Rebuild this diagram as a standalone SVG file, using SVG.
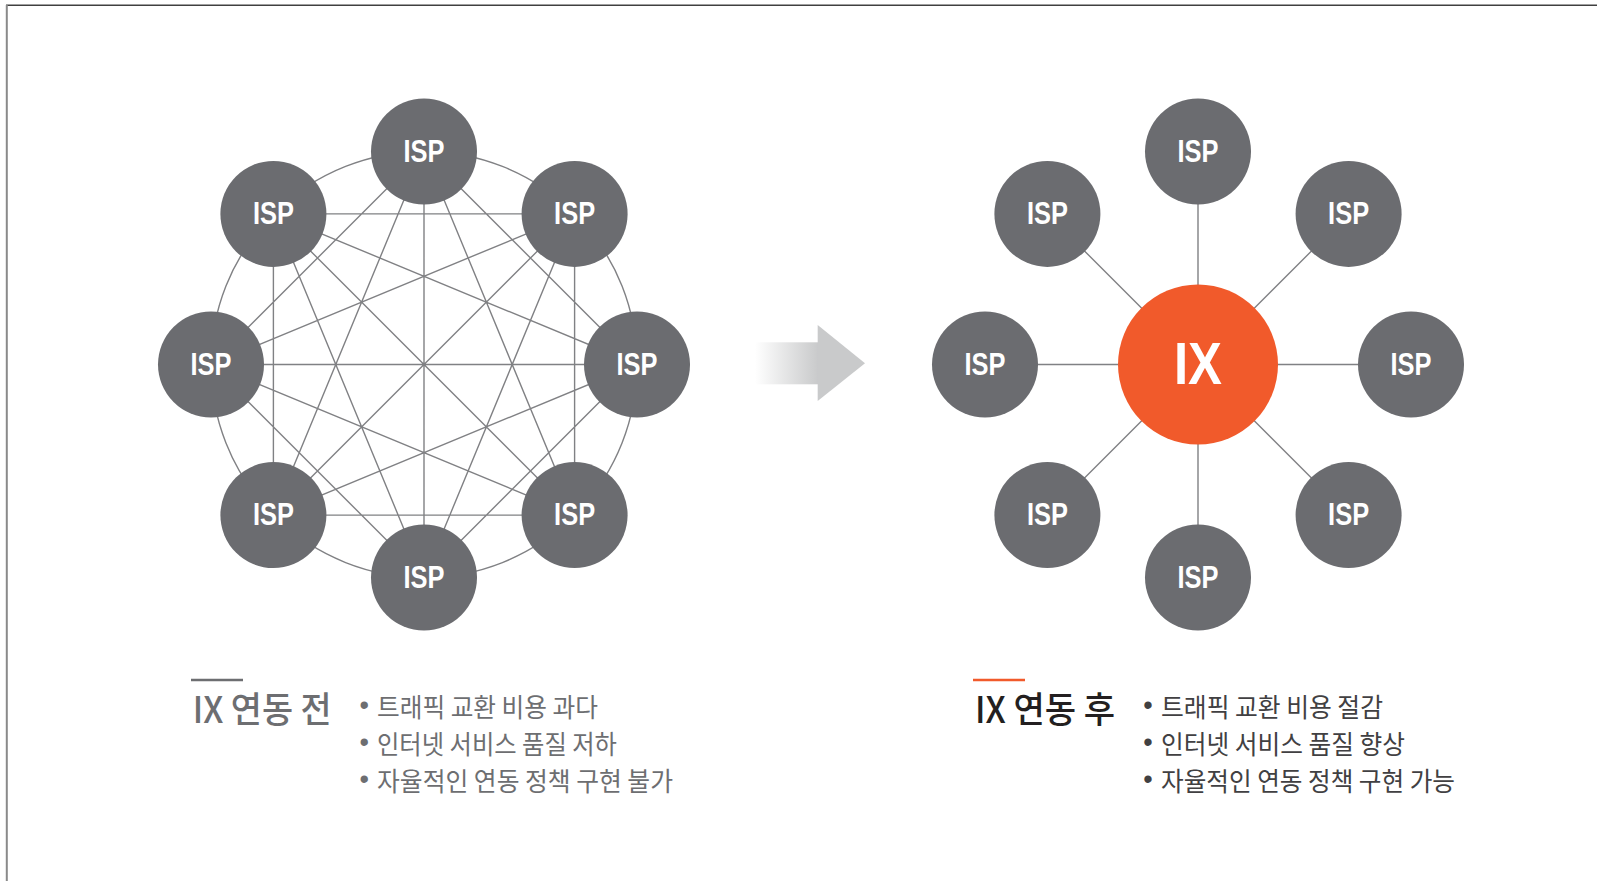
<svg xmlns="http://www.w3.org/2000/svg" width="1597" height="881" viewBox="0 0 1597 881">
<defs>
<style>
.isp{fill:#6b6c70}
.ispt{fill:#fff;font-family:"Liberation Sans",Arial,sans-serif;font-weight:bold;font-size:32px;text-anchor:middle}
.ln{stroke:#808184;stroke-width:1.4;fill:none}
.body{font-family:"Noto Sans CJK KR","Noto Sans",sans-serif;font-size:26px}
.bul{font-family:"Liberation Sans",Arial,sans-serif;font-size:27px;text-anchor:middle}
.title{font-family:"Noto Sans CJK KR","Noto Sans",sans-serif;font-size:36px;font-weight:500}
</style>
<linearGradient id="ag" gradientUnits="userSpaceOnUse" x1="755" y1="0" x2="818" y2="0">
<stop offset="0" stop-color="#ffffff"/>
<stop offset="1" stop-color="#c9cacb"/>
</linearGradient>
</defs>
<rect width="1597" height="881" fill="#fff"/>
<g id="frame">
<line x1="6" y1="5.3" x2="1597" y2="5.3" stroke="#404040" stroke-width="1.6"/>
<line x1="6.8" y1="5" x2="6.8" y2="881" stroke="#8a8a8a" stroke-width="2"/>
</g>
<g id="connectors">
<circle cx="424" cy="364.5" r="213" class="ln"/>
<path class="ln" d="M424,151.5L637,364.5M424,151.5L574.6,515.1M424,151.5L424,577.5M424,151.5L273.4,515.1M424,151.5L211,364.5
M574.6,213.9L574.6,515.1M574.6,213.9L424,577.5M574.6,213.9L273.4,515.1M574.6,213.9L211,364.5M574.6,213.9L273.4,213.9
M637,364.5L424,577.5M637,364.5L273.4,515.1M637,364.5L211,364.5M637,364.5L273.4,213.9
M574.6,515.1L273.4,515.1M574.6,515.1L211,364.5M574.6,515.1L273.4,213.9
M424,577.5L211,364.5M424,577.5L273.4,213.9
M273.4,515.1L273.4,213.9"/>
<path class="ln" d="M1198,364.5L1198,151.5M1198,364.5L1348.6,213.9M1198,364.5L1411,364.5M1198,364.5L1348.6,515.1M1198,364.5L1198,577.5M1198,364.5L1047.4,515.1M1198,364.5L985,364.5M1198,364.5L1047.4,213.9"/>
</g>
<g id="left-isp-0"><circle class="isp" cx="424" cy="151.5" r="53"/><text class="ispt" x="424" y="161.5" textLength="41" lengthAdjust="spacingAndGlyphs">ISP</text></g>
<g id="left-isp-1"><circle class="isp" cx="574.6" cy="213.9" r="53"/><text class="ispt" x="574.6" y="223.9" textLength="41" lengthAdjust="spacingAndGlyphs">ISP</text></g>
<g id="left-isp-2"><circle class="isp" cx="637" cy="364.5" r="53"/><text class="ispt" x="637" y="374.5" textLength="41" lengthAdjust="spacingAndGlyphs">ISP</text></g>
<g id="left-isp-3"><circle class="isp" cx="574.6" cy="515.1" r="53"/><text class="ispt" x="574.6" y="525.1" textLength="41" lengthAdjust="spacingAndGlyphs">ISP</text></g>
<g id="left-isp-4"><circle class="isp" cx="424" cy="577.5" r="53"/><text class="ispt" x="424" y="587.5" textLength="41" lengthAdjust="spacingAndGlyphs">ISP</text></g>
<g id="left-isp-5"><circle class="isp" cx="273.4" cy="515.1" r="53"/><text class="ispt" x="273.4" y="525.1" textLength="41" lengthAdjust="spacingAndGlyphs">ISP</text></g>
<g id="left-isp-6"><circle class="isp" cx="211" cy="364.5" r="53"/><text class="ispt" x="211" y="374.5" textLength="41" lengthAdjust="spacingAndGlyphs">ISP</text></g>
<g id="left-isp-7"><circle class="isp" cx="273.4" cy="213.9" r="53"/><text class="ispt" x="273.4" y="223.9" textLength="41" lengthAdjust="spacingAndGlyphs">ISP</text></g>
<g id="arrow">
<rect x="752" y="342.3" width="66.2" height="42" fill="url(#ag)"/>
<polygon points="817.7,325 865,363.3 817.7,401" fill="#c9cacb"/>
</g>
<g id="ix"><circle cx="1198" cy="364.5" r="80" fill="#f15a2b"/><text x="1198" y="384" fill="#fff" font-family="Liberation Sans,Arial,sans-serif" font-weight="bold" font-size="60" text-anchor="middle" textLength="48" lengthAdjust="spacingAndGlyphs">IX</text></g>
<g id="right-isp-0"><circle class="isp" cx="1198" cy="151.5" r="53"/><text class="ispt" x="1198" y="161.5" textLength="41" lengthAdjust="spacingAndGlyphs">ISP</text></g>
<g id="right-isp-1"><circle class="isp" cx="1348.6" cy="213.9" r="53"/><text class="ispt" x="1348.6" y="223.9" textLength="41" lengthAdjust="spacingAndGlyphs">ISP</text></g>
<g id="right-isp-2"><circle class="isp" cx="1411" cy="364.5" r="53"/><text class="ispt" x="1411" y="374.5" textLength="41" lengthAdjust="spacingAndGlyphs">ISP</text></g>
<g id="right-isp-3"><circle class="isp" cx="1348.6" cy="515.1" r="53"/><text class="ispt" x="1348.6" y="525.1" textLength="41" lengthAdjust="spacingAndGlyphs">ISP</text></g>
<g id="right-isp-4"><circle class="isp" cx="1198" cy="577.5" r="53"/><text class="ispt" x="1198" y="587.5" textLength="41" lengthAdjust="spacingAndGlyphs">ISP</text></g>
<g id="right-isp-5"><circle class="isp" cx="1047.4" cy="515.1" r="53"/><text class="ispt" x="1047.4" y="525.1" textLength="41" lengthAdjust="spacingAndGlyphs">ISP</text></g>
<g id="right-isp-6"><circle class="isp" cx="985" cy="364.5" r="53"/><text class="ispt" x="985" y="374.5" textLength="41" lengthAdjust="spacingAndGlyphs">ISP</text></g>
<g id="right-isp-7"><circle class="isp" cx="1047.4" cy="213.9" r="53"/><text class="ispt" x="1047.4" y="223.9" textLength="41" lengthAdjust="spacingAndGlyphs">ISP</text></g>
<g id="caption-before" fill="#6d6e71">
<line x1="191" y1="680" x2="243" y2="680" stroke="#6d6e71" stroke-width="2.5"/>
<text class="title" x="192.7" y="723" textLength="139" lengthAdjust="spacingAndGlyphs">IX 연동 전</text>
<text class="bul" x="364.3" y="714">•</text>
<text class="bul" x="364.3" y="751">•</text>
<text class="bul" x="364.3" y="788">•</text>
<text class="body" x="377" y="717" textLength="221" lengthAdjust="spacingAndGlyphs">트래픽 교환 비용 과다</text>
<text class="body" x="377" y="754" textLength="240" lengthAdjust="spacingAndGlyphs">인터넷 서비스 품질 저하</text>
<text class="body" x="377" y="791" textLength="296" lengthAdjust="spacingAndGlyphs">자율적인 연동 정책 구현 불가</text>
</g>
<g id="caption-after">
<line x1="973" y1="680" x2="1025" y2="680" stroke="#f15a2b" stroke-width="2.5"/>
<text class="title" x="975" y="723" fill="#231f20" textLength="140" lengthAdjust="spacingAndGlyphs">IX 연동 후</text>
<g fill="#414042">
<text class="bul" x="1148" y="714">•</text>
<text class="bul" x="1148" y="751">•</text>
<text class="bul" x="1148" y="788">•</text>
<text class="body" x="1161" y="717" textLength="222" lengthAdjust="spacingAndGlyphs">트래픽 교환 비용 절감</text>
<text class="body" x="1161" y="754" textLength="244" lengthAdjust="spacingAndGlyphs">인터넷 서비스 품질 향상</text>
<text class="body" x="1161" y="791" textLength="294" lengthAdjust="spacingAndGlyphs">자율적인 연동 정책 구현 가능</text>
</g>
</g>
</svg>
